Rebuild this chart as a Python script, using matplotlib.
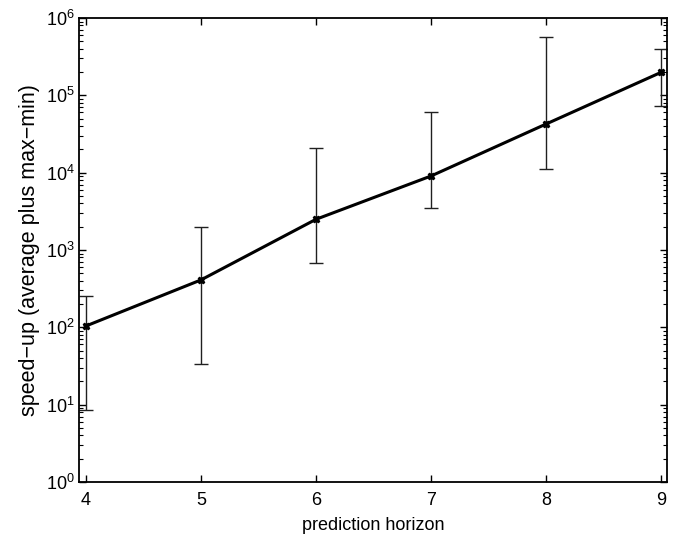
import numpy as np
import matplotlib
matplotlib.use("Agg")
import matplotlib.pyplot as plt
from matplotlib.ticker import LogLocator, NullFormatter

# prediction horizon vs. speed-up (average, max, min)
horizon = [4, 5, 6, 7, 8, 9]
speedup_avg = [104, 410, 2495, 9060, 42600, 198700]
speedup_max = [257, 1970, 20650, 61500, 573000, 398000]
speedup_min = [8.6, 33.3, 686, 3450, 11200, 72800]

plt.rcParams['font.family'] = ['Liberation Sans', 'DejaVu Sans']

avg = np.array(speedup_avg)
yerr = [avg - np.array(speedup_min), np.array(speedup_max) - avg]

fig = plt.figure(figsize=(6.82, 5.45), dpi=100)
ax = fig.add_axes([0.1158, 0.1156, 0.978 - 0.1158, 0.967 - 0.1156])

# error bars (thin), then the thick line with markers
ax.errorbar(horizon, speedup_avg, yerr=yerr, fmt='none', ecolor='#202020',
            elinewidth=1.0, capsize=5, capthick=1.0, zorder=2)
ax.plot(horizon, speedup_avg, color='black', linewidth=2.2, marker='X',
        markersize=5, zorder=3)

ax.set_yscale('log')
ax.set_xlim(3.94, 9.05)
ax.set_ylim(1, 1e6)
ax.set_xticks(horizon)
ax.yaxis.set_major_locator(LogLocator(base=10, numticks=10))
ax.yaxis.set_minor_locator(LogLocator(base=10, subs=np.arange(2, 10), numticks=20))
ax.yaxis.set_minor_formatter(NullFormatter())

ax.tick_params(which='both', direction='in', top=True, right=True, labelsize=13)
ax.tick_params(axis='x', pad=7)
ax.tick_params(axis='y', pad=3)
ax.tick_params(which='major', length=5, width=1)
ax.tick_params(which='minor', length=3, width=0.8)
for s in ax.spines.values():
    s.set_linewidth(1.3)

ax.set_xlabel("prediction horizon", fontsize=13, labelpad=6)
ax.set_ylabel("speed\u2212up (average plus max\u2212min)", fontsize=15.5, labelpad=4)

fig.savefig("out.png", dpi=100)
